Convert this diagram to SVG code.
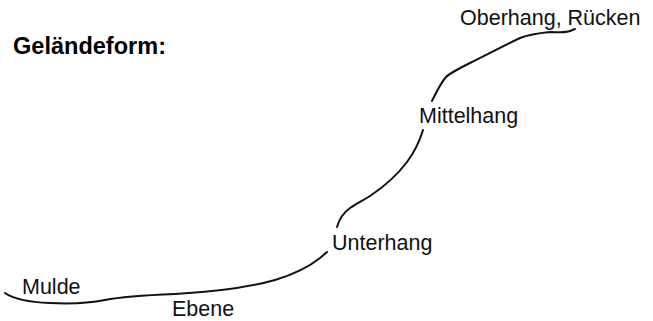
<svg xmlns="http://www.w3.org/2000/svg" width="653" height="321" viewBox="0 0 653 321">
<style>
.lbl{font-family:"Liberation Sans",Arial,sans-serif;font-size:21.5px;fill:#111}
.ttl{font-family:"Liberation Sans",Arial,sans-serif;font-size:24px;font-weight:bold;fill:#000}
.crv{fill:none;stroke:#111;stroke-width:2;stroke-linecap:round;stroke-linejoin:round}
</style>
<rect width="653" height="321" fill="#fff"/>
<g id="title"><text class="ttl" x="13" y="54" textLength="153" lengthAdjust="spacingAndGlyphs">Geländeform:</text></g>
<g id="connectors">
<path class="crv" d="M5,293 C12,298 25,302 50,303 C70,304 90,303 105,300 C125,296 150,295 175,294 C215,292 250,287 275,280 C295,274 310,266 320,258 L327,252"/>
<path class="crv" d="M337,227 C339,220 343,213 350,208 C356,204 362,201 370,196 C385,186 398,174 407,162 C416,150 420,140 423,130"/>
<path class="crv" d="M432,101 C436,93 440,84 446,77 C450,73 458,69 470,63 C490,53 505,45 520,38 C530,34 540,33 550,32 C558,32 565,33 570,31 L575,29"/>
</g>
<g id="oberhang"><text class="lbl" x="460" y="25">Oberhang, Rücken</text></g>
<g id="mittelhang"><text class="lbl" x="419" y="123">Mittelhang</text></g>
<g id="unterhang"><text class="lbl" x="332" y="250">Unterhang</text></g>
<g id="mulde"><text class="lbl" x="22" y="294">Mulde</text></g>
<g id="ebene"><text class="lbl" x="172" y="316" font-size="20">Ebene</text></g>
</svg>
